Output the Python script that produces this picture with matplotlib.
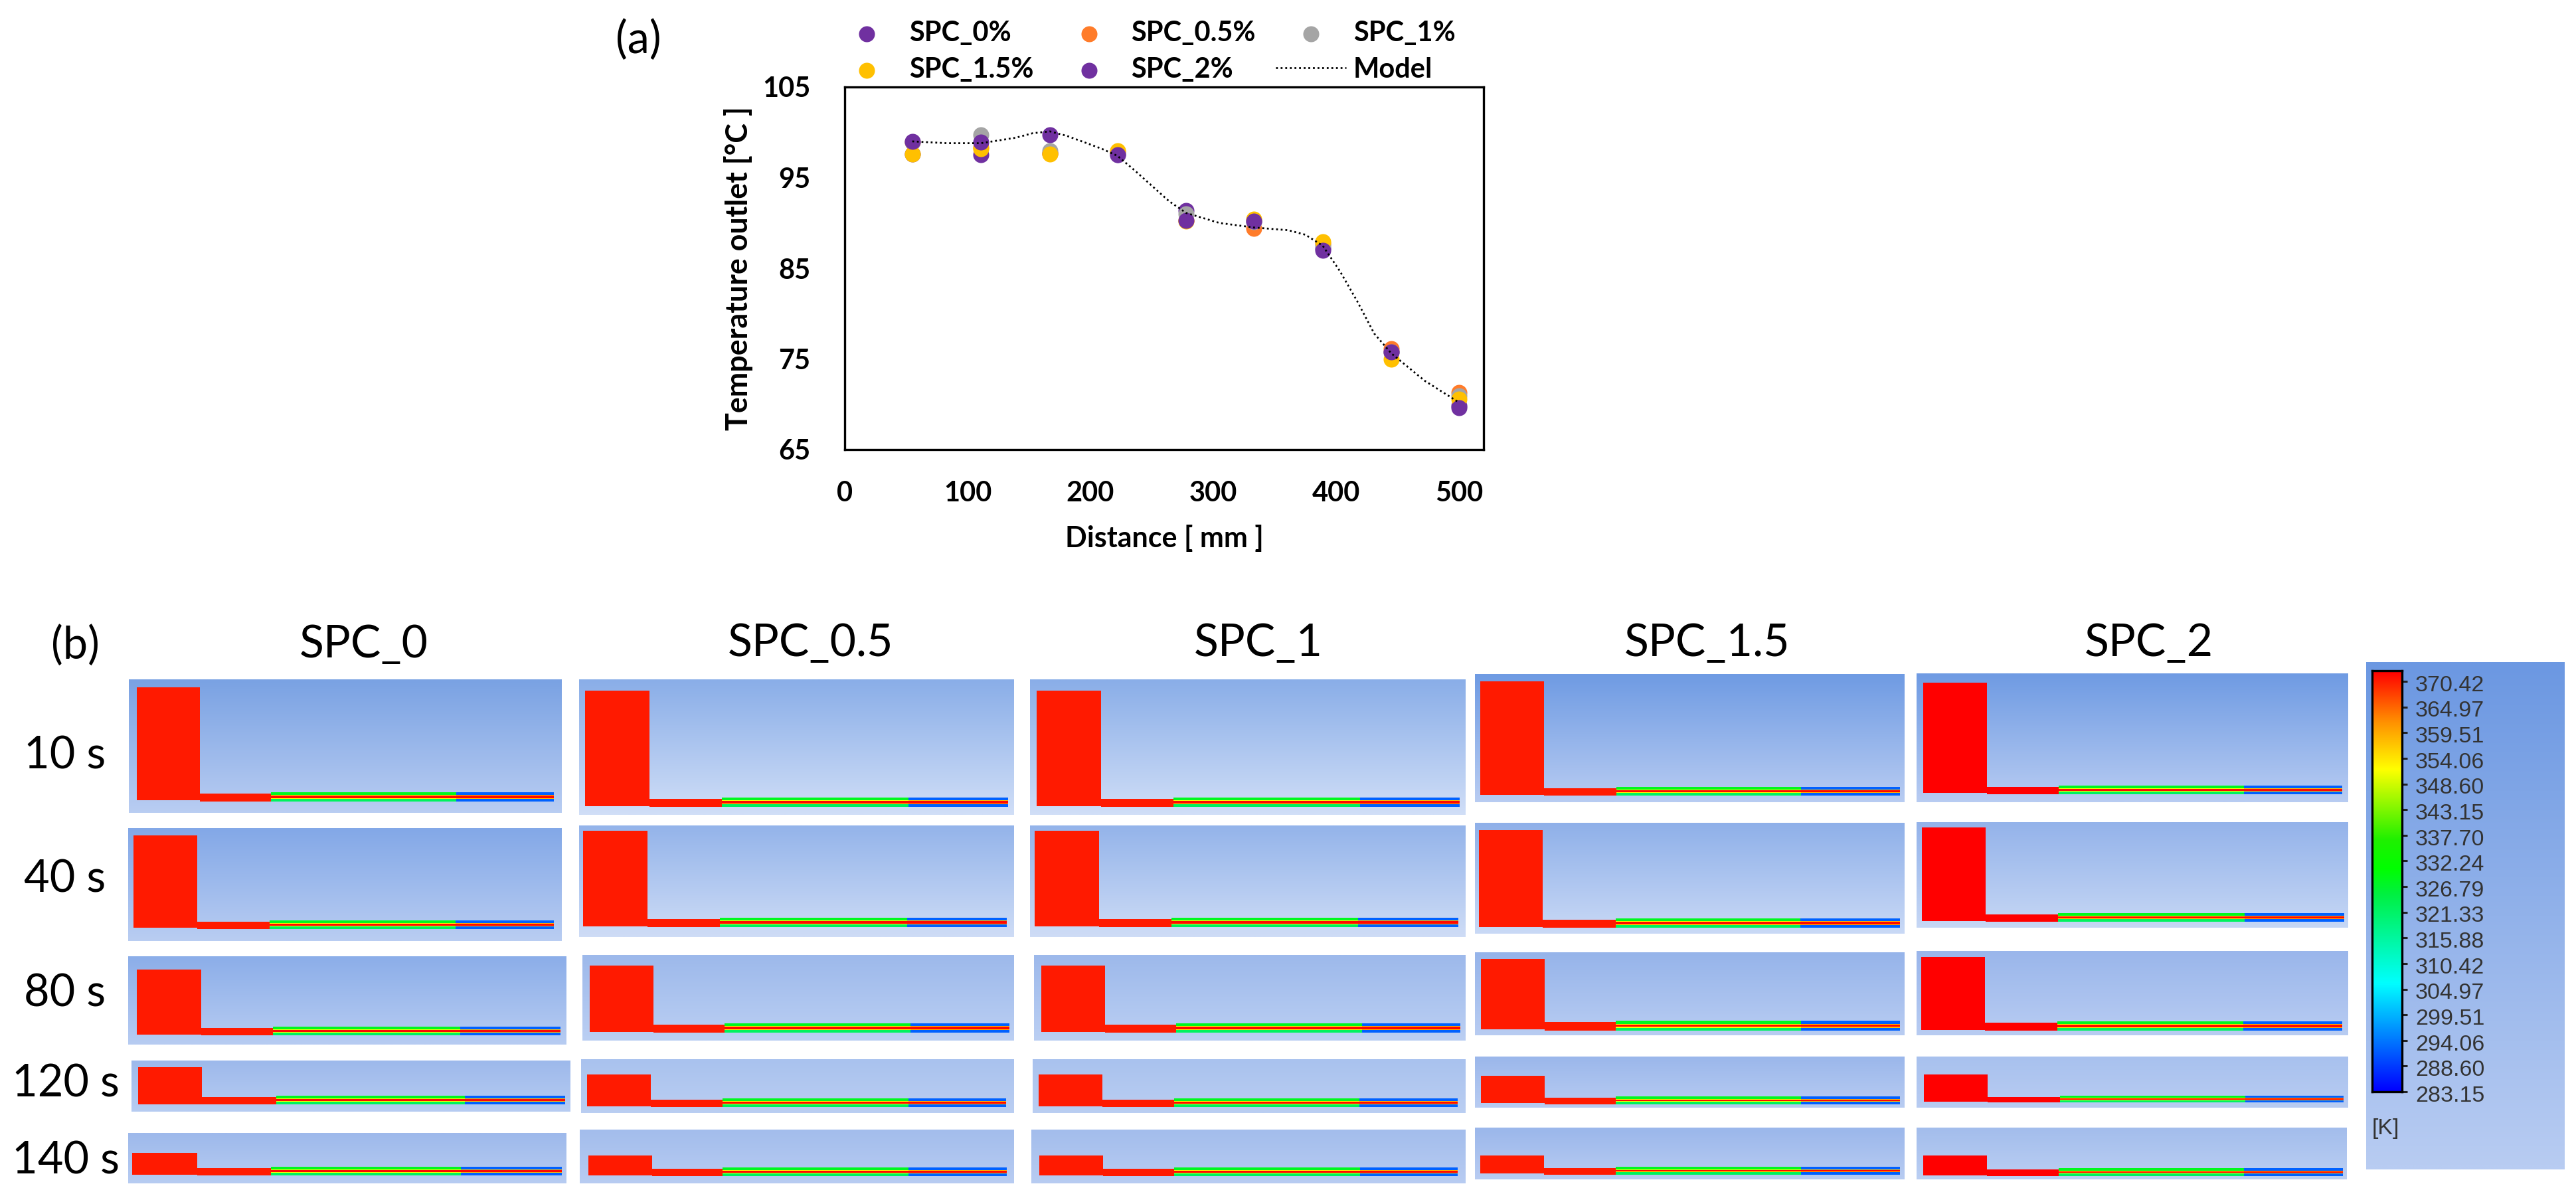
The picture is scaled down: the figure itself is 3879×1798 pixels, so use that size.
import numpy as np
import matplotlib
matplotlib.use("Agg")
import matplotlib.pyplot as plt
from matplotlib.colors import LinearSegmentedColormap, to_rgb
from matplotlib.patches import Rectangle

plt.rcParams['font.family'] = ['Lato', 'DejaVu Sans']

W, H = 3880, 1798

# panel (a) values
distance = [55, 111, 167, 222, 278, 333, 389, 445, 500]
spc_0 = [97.6, 97.5, 97.7, 97.5, 91.4, 90.2, 87.2, 75.8, 69.8]
spc_05 = [98.9, 98.3, 97.7, 97.9, 90.3, 89.4, 87.7, 76.1, 71.3]
spc_1 = [98.9, 99.7, 98.0, 97.7, 91.0, 90.1, 87.5, 75.8, 70.9]
spc_15 = [97.6, 98.2, 97.6, 98.0, 90.2, 90.4, 87.9, 75.0, 70.6]
spc_2 = [99.0, 98.9, 99.7, 97.5, 90.3, 90.2, 87.0, 75.8, 69.6]

model_x = [55, 83, 111, 139, 153, 167, 181, 195, 209, 222, 236, 250, 264, 278, 305, 333, 361,
           375, 389, 403, 417, 431, 445, 472, 500]
model_y = [99.0, 98.8, 98.8, 99.4, 99.9, 100.1, 99.6, 98.9, 98.2, 97.4, 95.8, 94.1, 92.4, 91.1, 90.0, 89.5, 89.2,
           88.7, 87.5, 84.7, 81.4, 77.8, 75.6, 72.6, 70.2]

x_ticks = [0, 100, 200, 300, 400, 500]
y_ticks = [65, 75, 85, 95, 105]

# panel (b)
col_titles = ['SPC_0', 'SPC_0.5', 'SPC_1', 'SPC_1.5', 'SPC_2']
row_titles = ['10 s', '40 s', '80 s', '120 s', '140 s']
cbar_ticks = [283.15, 288.60, 294.06, 299.51, 304.97, 310.42, 315.88, 321.33, 326.79,
              332.24, 337.70, 343.15, 348.60, 354.06, 359.51, 364.97, 370.42]

# temperature through the thin strip, top to bottom
strip_left = [328, 352, 372, 352, 322]
strip_right = [292, 358, 372, 358, 292]
strip_share = [0.30, 0.08, 0.24, 0.08, 0.30]

# pixel boxes of the contour screenshots, [row][col]
panel_box = [
    [(194, 846, 1023, 1224), (872, 1527, 1023, 1227), (1551, 2207, 1023, 1227), (2221, 2868, 1015, 1208), (2886, 3536, 1014, 1208)],
    [(193, 846, 1247, 1417), (872, 1527, 1243, 1411), (1551, 2207, 1243, 1411), (2221, 2868, 1239, 1406), (2886, 3536, 1238, 1397)],
    [(193, 853, 1440, 1573), (877, 1527, 1438, 1567), (1557, 2207, 1438, 1567), (2221, 2868, 1434, 1559), (2886, 3536, 1432, 1559)],
    [(198, 859, 1597, 1674), (875, 1527, 1595, 1676), (1555, 2207, 1595, 1676), (2221, 2868, 1591, 1668), (2886, 3536, 1591, 1668)],
    [(193, 853, 1706, 1782), (873, 1527, 1701, 1782), (1553, 2207, 1701, 1782), (2221, 2868, 1698, 1776), (2886, 3534, 1698, 1776)],
]
tower_box = [
    [(206, 301, 1035, 1205), (881, 978, 1040, 1214), (1561, 1658, 1040, 1214), (2229, 2325, 1026, 1197), (2896, 2992, 1028, 1194)],
    [(201, 297, 1258, 1397), (878, 975, 1251, 1395), (1558, 1655, 1251, 1395), (2227, 2323, 1250, 1396), (2894, 2990, 1246, 1387)],
    [(206, 303, 1460, 1558), (888, 984, 1454, 1554), (1568, 1664, 1454, 1554), (2230, 2326, 1444, 1550), (2893, 2989, 1441, 1551)],
    [(208, 304, 1607, 1663), (884, 980, 1618, 1666), (1564, 1660, 1618, 1666), (2230, 2326, 1620, 1661), (2897, 2993, 1618, 1659)],
    [(199, 297, 1736, 1769), (886, 982, 1740, 1770), (1565, 1661, 1740, 1770), (2229, 2325, 1740, 1767), (2896, 2992, 1740, 1770)],
]
# x start, x where colours change, x end, y top, y bottom
strip_box = [
    [(408, 687, 834, 1193, 1207), (1087, 1368, 1518, 1201, 1215), (1767, 2048, 2198, 1201, 1215), (2434, 2712, 2861, 1185, 1198), (3100, 3379, 3527, 1183, 1196)],
    [(406, 686, 834, 1386, 1399), (1084, 1366, 1516, 1382, 1396), (1764, 2045, 2196, 1382, 1396), (2433, 2711, 2861, 1383, 1397), (3099, 3380, 3530, 1375, 1388)],
    [(411, 693, 844, 1546, 1559), (1091, 1371, 1520, 1541, 1555), (1771, 2051, 2199, 1541, 1555), (2433, 2712, 2861, 1537, 1552), (3098, 3378, 3527, 1538, 1552)],
    [(416, 700, 851, 1650, 1663), (1088, 1368, 1515, 1654, 1667), (1768, 2047, 2195, 1654, 1667), (2433, 2712, 2861, 1651, 1663), (3102, 3381, 3529, 1650, 1660)],
    [(408, 694, 846, 1757, 1770), (1088, 1368, 1516, 1758, 1771), (1768, 2048, 2195, 1758, 1771), (2433, 2712, 2861, 1757, 1769), (3100, 3379, 3528, 1759, 1771)],
]
panel_top = [
    ['#7aa2e3', '#8aaee8', '#8aaee8', '#6f9be3', '#6f9be3'],
    ['#83a8e7', '#94b4ea', '#94b4ea', '#8fb0e9', '#94b3ea'],
    ['#8caee9', '#9db9eb', '#9db9eb', '#96b4ea', '#9ab6eb'],
    ['#9db9eb', '#a9c2ee', '#a9c2ee', '#9bb7eb', '#a8c1ee'],
    ['#9eb9eb', '#a3bdec', '#a3bdec', '#9bb7eb', '#a3bdec'],
]
panel_bottom = [
    ['#b9cdf2', '#d0def7', '#d0def7', '#b8ccf2', '#b8ccf2'],
    ['#b9cdf2', '#cedcf6', '#cedcf6', '#c9d9f6', '#c6d7f5'],
    ['#b7ccf2', '#bbcff3', '#bbcff3', '#b8ccf2', '#b8ccf2'],
    ['#b7ccf2', '#bacef2', '#bacef2', '#b8ccf2', '#b8ccf2'],
    ['#b7ccf2', '#b8ccf2', '#b8ccf2', '#b8ccf2', '#bbcff3'],
]
tower_red = ['#ff1a00', '#ff1a00', '#ff1a00', '#ff1a00', '#ff0000']

T_MIN, T_MAX = 283.15, 372.7
ansys = LinearSegmentedColormap.from_list('ansys', [
    (0.0, '#0000ff'), (0.257, '#00ffff'), (0.47, '#00f040'), (0.53, '#00ff00'), (0.60, '#20f000'),
    (0.767, '#ffff00'), (0.88, '#ff9000'), (1.0, '#ff0000')])


def temp_colour(t):
    return ansys((t - T_MIN) / (T_MAX - T_MIN))


def gradient(ax, box, top, bottom):
    x0, x1, y0, y1 = box
    t = np.linspace(0, 1, 64)[:, None, None]
    img = np.array(to_rgb(top))[None, None, :] * (1 - t) + np.array(to_rgb(bottom))[None, None, :] * t
    ax.imshow(img, extent=(x0, x1, y1, y0), aspect='auto', interpolation='bilinear', zorder=1)


def px_rect(x0, y0, x1, y1):
    return [x0 / W, 1 - y1 / H, (x1 - x0) / W, (y1 - y0) / H]


fig = plt.figure(figsize=(W / 100, H / 100), dpi=100, facecolor='white')

# page overlay in pixels for panel (b)
page = fig.add_axes([0, 0, 1, 1])
page.set_axis_off()

for r in range(5):
    for c in range(5):
        gradient(page, panel_box[r][c], panel_top[r][c], panel_bottom[r][c])
        tx0, tx1, ty0, ty1 = tower_box[r][c]
        sx0, sxm, sx1, sy0, sy1 = strip_box[r][c]
        red = tower_red[c]
        page.add_patch(Rectangle((tx0, ty0), tx1 - tx0, ty1 - ty0, fc=red, ec='none', zorder=2))
        page.add_patch(Rectangle((tx1, sy0 + 2), sx0 - tx1, sy1 - sy0 - 2, fc=red, ec='none', zorder=2))
        y = sy0
        for tl, tr, share in zip(strip_left, strip_right, strip_share):
            h = (sy1 - sy0) * share
            # no antialiasing here, blended edges turn the thin bands muddy
            page.add_patch(Rectangle((sx0, y), sxm - sx0, h, fc=temp_colour(tl), ec='none', zorder=3, antialiased=False))
            page.add_patch(Rectangle((sxm, y), sx1 - sxm, h, fc=temp_colour(tr), ec='none', zorder=3, antialiased=False))
            y += h

for title, x, base in zip(col_titles, [548, 1220, 1895, 2570, 3236], [990, 988, 988, 988, 988]):
    page.text(x, base, title, ha='center', va='baseline', fontsize=49, color='black')
for title, x, base in zip(row_titles, [98, 98, 98, 99, 99], [1158, 1343, 1515, 1652, 1767]):
    page.text(x, base, title, ha='center', va='baseline', fontsize=48, color='black')
page.text(113, 992, '(b)', ha='center', va='baseline', fontsize=48, color='black')
page.text(961, 80, '(a)', ha='center', va='baseline', fontsize=48, color='black')

# colour bar panel
gradient(page, (3563, 3862, 997, 1761), '#6c98e2', '#b8ccf2')
page.text(3572, 1708, '[K]', ha='left', va='baseline', fontsize=24.5, color='#333333', family='Liberation Sans')
page.set_xlim(0, W)
page.set_ylim(H, 0)

cax = fig.add_axes(px_rect(3572, 1010, 3617, 1644), zorder=3)
cax.imshow(np.linspace(T_MAX, T_MIN, 256)[:, None], cmap=ansys, vmin=T_MIN, vmax=T_MAX,
           aspect='auto', extent=(0, 1, T_MIN, T_MAX))
cax.set_xticks([])
cax.yaxis.tick_right()
cax.set_yticks(cbar_ticks)
cax.set_yticklabels([])
cax.tick_params(axis='y', length=6, width=2.2, color='#222222')
for s in cax.spines.values():
    s.set_linewidth(2.4)
for t in cbar_ticks:
    cax.annotate(f'{t:.2f}', (1, t), xytext=(14.5, -4.5), textcoords='offset points', ha='left', va='center',
                 fontsize=24.5, color='#333333', family='Liberation Sans', annotation_clip=False)

# panel (a)
ax = fig.add_axes(px_rect(1272, 131, 2234, 677), zorder=2)
ax.patch.set_alpha(0)
marker = dict(s=300, linewidths=0, clip_on=False)
h0 = ax.scatter(distance, spc_0, color='#7030a0', label='SPC_0%', zorder=3, **marker)
h05 = ax.scatter(distance, spc_05, color='#ff7c2a', label='SPC_0.5%', zorder=3, **marker)
h1 = ax.scatter(distance, spc_1, color='#a5a5a5', label='SPC_1%', zorder=3, **marker)
h15 = ax.scatter(distance, spc_15, color='#ffc000', label='SPC_1.5%', zorder=3, **marker)
h2 = ax.scatter(distance, spc_2, color='#7030a0', label='SPC_2%', zorder=3, **marker)
hm, = ax.plot(model_x, model_y, color='black', lw=2.0, ls=(0, (1, 1.5)), label='Model', zorder=4)

ax.set_xlim(0, 520)
ax.set_ylim(65, 105)
ax.set_xticks(x_ticks)
ax.set_yticks(y_ticks)
ax.tick_params(axis='both', length=0, labelsize=30)
ax.tick_params(axis='x', pad=34)
ax.tick_params(axis='y', pad=37)
for lab in ax.get_xticklabels() + ax.get_yticklabels():
    lab.set_fontweight('bold')
for s in ax.spines.values():
    s.set_linewidth(2.4)
ax.set_xlabel('Distance [ mm ]', fontsize=31, fontweight='bold', labelpad=20)
ax.set_ylabel('Temperature outlet [°C ]', fontsize=32.3, fontweight='bold', labelpad=10)

handles = [h0, h15, h05, h2, h1, hm]
fig.legend(handles=handles, labels=[h.get_label() for h in handles], ncol=3, frameon=False,
           loc='lower left', bbox_to_anchor=(1252 / W, 1 - 124 / H), borderpad=0, borderaxespad=0,
           prop={'size': 30, 'weight': 'bold'}, handlelength=2.54, handletextpad=0.26,
           columnspacing=0.73, labelspacing=0.42, scatterpoints=1)

fig.savefig('out.png', dpi=100)
